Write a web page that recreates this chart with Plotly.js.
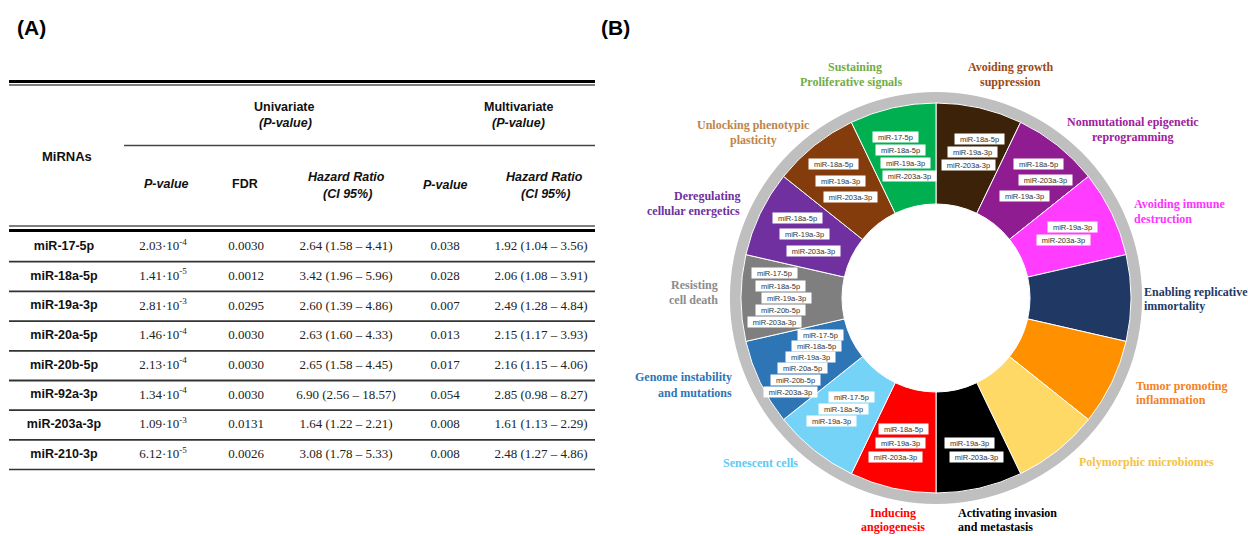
<!DOCTYPE html>
<html><head><meta charset="utf-8">
<script src="https://cdn.plot.ly/plotly-3.0.1.min.js"></script>
<style>html,body{margin:0;padding:0;background:#fff}#chart{width:1248px;height:536px}</style>
</head><body><div id="chart"></div>
<script>
// ---------------- DATA ----------------
const mirnas = ['miR-17-5p','miR-18a-5p','miR-19a-3p','miR-20a-5p','miR-20b-5p','miR-92a-3p','miR-203a-3p','miR-210-3p'];
const uniP = ['2.03·10<sup>-4</sup>','1.41·10<sup>-5</sup>','2.81·10<sup>-3</sup>','1.46·10<sup>-4</sup>','2.13·10<sup>-4</sup>','1.34·10<sup>-4</sup>','1.09·10<sup>-3</sup>','6.12·10<sup>-5</sup>'];
const uniFDR = ['0.0030','0.0012','0.0295','0.0030','0.0030','0.0030','0.0131','0.0026'];
const uniHR = ['2.64 (1.58 – 4.41)','3.42 (1.96 – 5.96)','2.60 (1.39 – 4.86)','2.63 (1.60 – 4.33)','2.65 (1.58 – 4.45)','6.90 (2.56 – 18.57)','1.64 (1.22 – 2.21)','3.08 (1.78 – 5.33)'];
const multiP = ['0.038','0.028','0.007','0.013','0.017','0.054','0.008','0.008'];
const multiHR = ['1.92 (1.04 – 3.56)','2.06 (1.08 – 3.91)','2.49 (1.28 – 4.84)','2.15 (1.17 – 3.93)','2.16 (1.15 – 4.06)','2.85 (0.98 – 8.27)','1.61 (1.13 – 2.29)','2.48 (1.27 – 4.86)'];

const hallmarks = ['Avoiding growth suppression','Nonmutational epigenetic reprogramming','Avoiding immune destruction','Enabling replicative immortality','Tumor promoting inflammation','Polymorphic microbiomes','Activating invasion and metastasis','Inducing angiogenesis','Senescent cells','Genome instability and mutations','Resisting cell death','Deregulating cellular energetics','Unlocking phenotypic plasticity','Sustaining Proliferative signals'];
const hallmarkShare = [1,1,1,1,1,1,1,1,1,1,1,1,1,1];
const hallmarkMirs = [
  ['miR-18a-5p','miR-19a-3p','miR-203a-3p'],
  ['miR-18a-5p','miR-203a-3p','miR-19a-3p'],
  ['miR-19a-3p','miR-203a-3p'],
  [],[],[],
  ['miR-19a-3p','miR-203a-3p'],
  ['miR-18a-5p','miR-19a-3p','miR-203a-3p'],
  ['miR-17-5p','miR-18a-5p','miR-19a-3p'],
  ['miR-17-5p','miR-18a-5p','miR-19a-3p','miR-20a-5p','miR-20b-5p','miR-203a-3p'],
  ['miR-17-5p','miR-18a-5p','miR-19a-3p','miR-20b-5p','miR-203a-3p'],
  ['miR-18a-5p','miR-19a-3p','miR-203a-3p'],
  ['miR-18a-5p','miR-19a-3p','miR-203a-3p'],
  ['miR-17-5p','miR-18a-5p','miR-19a-3p','miR-203a-3p']
];

// ---------------- STYLE / LAYOUT ----------------
const W = 1248, H = 536;
const segColors = ['#3b2208','#8f1c90','#ff3cff','#1f3864','#ff9100','#ffd966','#000000','#ff0000','#74d3f7','#2e75b6','#7f7f7f','#7030a0','#843c0c','#00b050'];
const labelColors = ['#9a4a16','#a020a0','#ff33ff','#1f3864','#f4811f','#f5c242','#000000','#ff0000','#5bcbf5','#2e75b6','#8c8c8c','#7030a0','#c0854a','#70ad47'];
// label lines: [text, x, y, xanchor]
const labelLines = [
  [['Avoiding growth',1011,67,'center'],['suppression',1010,82,'center']],
  [['Nonmutational epigenetic',1133,122,'center'],['reprogramming',1133,137,'center']],
  [['Avoiding immune',1132,204,'left'],['destruction',1132,219,'left']],
  [['Enabling replicative',1142,292,'left'],['immortality',1142,306,'left']],
  [['Tumor promoting',1134,386,'left'],['inflammation',1134,400,'left']],
  [['Polymorphic microbiomes',1077,462,'left']],
  [['Activating invasion',956,513,'left'],['and metastasis',956,527,'left']],
  [['Inducing',893,513,'center'],['angiogenesis',893,527,'center']],
  [['Senescent cells',760,463,'center']],
  [['Genome instability',734,377,'right'],['and mutations',734,393,'right']],
  [['Resisting',720,285,'right'],['cell death',720,300,'right']],
  [['Deregulating',742,196,'right'],['cellular energetics',742,211,'right']],
  [['Unlocking phenotypic',753,125,'center'],['plasticity',753,140,'center']],
  [['Sustaining',855,67,'center'],['Proliferative signals',851,82,'center']]
];
const mirBoxPos = [
  [[979,139],[972,152],[968,165]],
  [[1038,164],[1045,180],[1024,196]],
  [[1072,227],[1063,240]],
  [],[],[],
  [[969,443],[976,457]],
  [[903,429],[900,443],[895,457]],
  [[851,397],[843,409],[831,421]],
  [[820,335],[816,346],[810,357],[802,368],[795,380],[790,392]],
  [[774,273],[780,286],[786,298],[780,310],[774,322]],
  [[797,218],[804,234],[813,251]],
  [[833,164],[840,181],[850,197]],
  [[895,137],[900,150],[905,163],[909,176]]
];

const cx = 936, cy = 298, rOuter = 195, rRing = 206, rHole = 94;
function dom(r){ return {x:[(cx-r)/W,(cx+r)/W], y:[1-(cy+r)/H, 1-(cy-r)/H]}; }

// table geometry
const tL = 9, tR = 595;
const colX = [64, 163, 246, 346, 445, 541];
const rowTop = 232, rowH = 29.7;
const rowY = mirnas.map((_, i) => rowTop + rowH*(i+0.5));

const traces = [];
// grey outer ring
traces.push({type:'pie', values:[1], labels:['ring'], marker:{colors:['#bfbfbf'], line:{width:0}},
  hole:0.88, domain:dom(rRing), textinfo:'none', hoverinfo:'skip', sort:false, showlegend:false});
// hallmark donut
traces.push({type:'pie', values:hallmarkShare, labels:hallmarks, marker:{colors:segColors, line:{color:'#ffffff', width:1}},
  hole:rHole/rOuter, domain:dom(rOuter), direction:'clockwise', rotation:0, sort:false,
  textinfo:'none', hoverinfo:'label', showlegend:false});

// table cells (text through the hidden axes)
const cols = [mirnas, uniP, uniFDR, uniHR, multiP, multiHR];
cols.forEach((col, j) => {
  traces.push({type:'scatter', mode:'text', x:col.map(() => colX[j]), y:rowY,
    text: j===0 ? col.map(s => '<b>'+s+'</b>') : col,
    textposition:'middle center', cliponaxis:false, hoverinfo:'skip', showlegend:false,
    textfont: j===0 ? {family:'Liberation Sans, Arial', size:12.5, color:'#111'} : {family:'Liberation Serif, Times New Roman', size:13, color:'#222'}});
});

const ann = [];
const hdr = {family:'Liberation Sans, Arial', size:12.5, color:'#111'};
function A(text, x, y, font, xanchor){ ann.push({text, x, y, xref:'x', yref:'y', showarrow:false, font, xanchor:xanchor||'center', yanchor:'middle'}); }
A('<b>(A)</b>', 31, 27, {family:'Liberation Sans, Arial', size:21, color:'#000'});
A('<b>(B)</b>', 615, 27, {family:'Liberation Sans, Arial', size:21, color:'#000'});
A('<b>MiRNAs</b>', 67, 156, {family:'Liberation Sans, Arial', size:13, color:'#111'});
A('<b>Univariate</b>', 284, 107, hdr);
A('<b><i>(P-value)</i></b>', 285, 123, hdr);
A('<b>Multivariate</b>', 519, 107, hdr);
A('<b><i>(P-value)</i></b>', 518, 123, hdr);
A('<b><i>P-value</i></b>', 166, 184, hdr);
A('<b>FDR</b>', 245, 184, hdr);
A('<b><i>Hazard Ratio</i></b>', 346, 177, hdr);
A('<b><i>(CI 95%)</i></b>', 347, 194, hdr);
A('<b><i>P-value</i></b>', 445, 185, hdr);
A('<b><i>Hazard Ratio</i></b>', 544, 177, hdr);
A('<b><i>(CI 95%)</i></b>', 545, 194, hdr);

// hallmark labels
labelLines.forEach((lines, k) => lines.forEach(l => {
  A('<b>'+l[0]+'</b>', l[1], l[2], {family:'Liberation Serif, Times New Roman', size:12, color:labelColors[k]}, l[3]);
}));
// miRNA boxes within segments
hallmarkMirs.forEach((list, k) => list.forEach((m, i) => {
  const p = mirBoxPos[k][i];
  ann.push({text:m, x:p[0], y:p[1], xref:'x', yref:'y', showarrow:false,
    font:{family:'Liberation Sans, Arial', size:7.5, color:'#333'},
    bgcolor:'#ffffff', borderpad:0.5, width: m.length*4.1 + 7, height:9, align:'center'});
}));

const shapes = [];
function L(y, x0, x1, w, c){ shapes.push({type:'line', xref:'x', yref:'y', x0, x1, y0:y, y1:y, line:{color:c, width:w}}); }
L(81.5, tL, tR, 3, '#000');
L(85, tL, tR, 1.2, '#000');
L(145.5, 124, tR, 1.5, '#444');
L(226, tL, tR, 1.2, '#000');
L(230.5, tL, tR, 3, '#000');
for (let i = 1; i < mirnas.length; i++) L(rowTop + rowH*i, tL, tR, 1.8, '#333');
L(rowTop + rowH*mirnas.length, tL, tR, 1.5, '#333');

const layout = {
  width:W, height:H, margin:{l:0,r:0,t:0,b:0}, paper_bgcolor:'#fff', plot_bgcolor:'rgba(0,0,0,0)',
  showlegend:false,
  xaxis:{range:[0,W], visible:false, fixedrange:true, domain:[0,1]},
  yaxis:{range:[H,0], visible:false, fixedrange:true, domain:[0,1]},
  annotations:ann, shapes:shapes
};
Plotly.newPlot('chart', traces, layout, {displayModeBar:false, staticPlot:true});
</script></body></html>
